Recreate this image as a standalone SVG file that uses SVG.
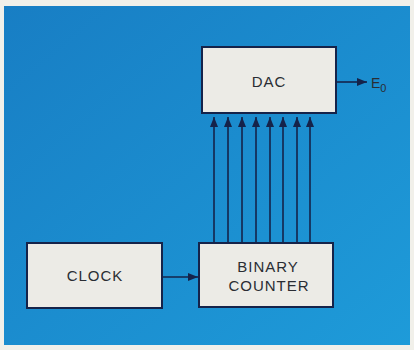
<svg xmlns="http://www.w3.org/2000/svg" width="414" height="350" viewBox="0 0 414 350">
<defs>
<linearGradient id="bg" x1="0" y1="0" x2="1" y2="1">
<stop offset="0" stop-color="#187ec4"/>
<stop offset="1" stop-color="#1e9bd9"/>
</linearGradient>
<marker id="ah" viewBox="0 0 10 8" refX="10" refY="4" markerWidth="10" markerHeight="8" markerUnits="userSpaceOnUse" orient="auto">
<path d="M0,0 L10,4 L0,8 Z" fill="#15234a"/>
</marker>
<style>
.box{fill:#ecebe6;stroke:#15234a;stroke-width:2}
.lbl{font-family:"Liberation Sans",Arial,sans-serif;font-size:15px;fill:#2a2d33;text-anchor:middle;letter-spacing:1px}
.wire{stroke:#15234a;stroke-width:1.6;fill:none;marker-end:url(#ah)}
</style>
</defs>
<rect x="0" y="0" width="414" height="350" fill="#f1f0ea"/>
<rect x="4" y="6" width="406" height="339" fill="url(#bg)"/>
<g id="dac">
<rect class="box" x="202" y="47" width="134" height="66"/>
<text class="lbl" x="269" y="87">DAC</text>
</g>
<g id="clock">
<rect class="box" x="27" y="243" width="135" height="65"/>
<text class="lbl" x="95" y="281">CLOCK</text>
</g>
<g id="counter">
<rect class="box" x="199" y="243" width="134" height="64"/>
<text class="lbl" x="268" y="272">BINARY</text>
<text class="lbl" x="269" y="291">COUNTER</text>
</g>
<g id="output">
<text x="371" y="88" font-family="'Liberation Sans',Arial,sans-serif" font-size="14" fill="#2a2d33">E<tspan font-size="11" dy="4">0</tspan></text>
</g>
<g id="connectors">
<line class="wire" x1="336" y1="82" x2="367" y2="82"/>
<line class="wire" x1="162" y1="277" x2="198" y2="277"/>
<line class="wire" x1="214" y1="243" x2="214" y2="117"/>
<line class="wire" x1="228" y1="243" x2="228" y2="117"/>
<line class="wire" x1="242" y1="243" x2="242" y2="117"/>
<line class="wire" x1="256" y1="243" x2="256" y2="117"/>
<line class="wire" x1="270" y1="243" x2="270" y2="117"/>
<line class="wire" x1="283" y1="243" x2="283" y2="117"/>
<line class="wire" x1="297" y1="243" x2="297" y2="117"/>
<line class="wire" x1="310" y1="243" x2="310" y2="117"/>
</g>
</svg>
